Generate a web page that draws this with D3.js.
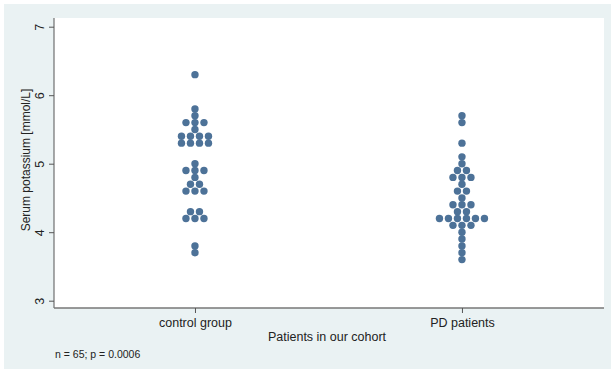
<!DOCTYPE html>
<html>
<head>
<meta charset="utf-8">
<script src="https://cdn.jsdelivr.net/npm/d3@7"></script>
<style>
  html, body { margin: 0; padding: 0; background: #ffffff; }
  svg { display: block; font-family: "Liberation Sans", Arial, sans-serif; }
</style>
</head>
<body>
<svg id="chart" width="611" height="372"></svg>
<script>
// ---- data ----
const categories = ["control group", "PD patients"];
const controlValues = [6.3, 5.8, 5.7, 5.6, 5.6, 5.6, 5.5, 5.4, 5.4, 5.4, 5.4, 5.3, 5.3, 5.3, 5.3,
  5.0, 4.9, 4.9, 4.9, 4.8, 4.7, 4.7, 4.6, 4.6, 4.6, 4.3, 4.3, 4.2, 4.2, 4.2, 3.8, 3.7];
const pdValues = [5.7, 5.6, 5.3, 5.1, 5.0, 4.9, 4.9, 4.8, 4.8, 4.8, 4.7, 4.6, 4.6, 4.5,
  4.4, 4.4, 4.4, 4.3, 4.3, 4.2, 4.2, 4.2, 4.2, 4.2, 4.2, 4.1, 4.1, 4.1, 4.0, 3.9, 3.8, 3.7, 3.6];
const yTicks = [3, 4, 5, 6, 7];
const yTitle = "Serum potassium [mmol/L]";
const xTitle = "Patients in our cohort";
const note = "n = 65; p = 0.0006";

// ---- layout ----
const svg = d3.select("#chart");
const W = 611, H = 372;
const plot = { left: 54, right: 604, top: 18, bottom: 308 };

svg.append("rect").attr("x", 0).attr("y", 0).attr("width", W).attr("height", H).attr("fill", "#ffffff");
svg.append("rect").attr("x", 4).attr("y", 4).attr("width", W - 4).attr("height", H - 7).attr("fill", "#eaf2f3");
svg.append("rect").attr("x", plot.left).attr("y", plot.top)
  .attr("width", plot.right - plot.left).attr("height", plot.bottom - plot.top).attr("fill", "#ffffff");

const x = d3.scaleLinear().domain([0.472, 2.532]).range([plot.left, plot.right]);
const y = d3.scaleLinear().domain([3, 7]).range([300.7, 26.7]);

// ---- y axis ----
const yAxis = d3.axisLeft(y).tickValues(yTicks).tickSize(5).tickPadding(4).tickFormat(d3.format("d"));
const gy = svg.append("g").attr("transform", `translate(${plot.left},0)`).call(yAxis);
gy.select(".domain").attr("d", `M0,${plot.top}V${plot.bottom}`).attr("stroke", "#555").attr("stroke-width", 1);
gy.selectAll(".tick line").attr("stroke", "#555");
gy.selectAll(".tick text")
  .attr("font-size", 12.5).attr("fill", "#222")
  .attr("text-anchor", "middle").attr("dy", null)
  .attr("x", null)
  .attr("transform", "translate(-14,0) rotate(-90)")
  .attr("dominant-baseline", "central");

svg.append("text")
  .attr("transform", `translate(26,160) rotate(-90)`)
  .attr("text-anchor", "middle").attr("dominant-baseline", "central")
  .attr("font-size", 12).attr("fill", "#222").text(yTitle);

// ---- x axis ----
const xAxis = d3.axisBottom(x).tickValues([1, 2]).tickSize(5).tickPadding(5)
  .tickFormat((d, i) => categories[i]);
const gx = svg.append("g").attr("transform", `translate(0,${plot.bottom})`).call(xAxis);
gx.select(".domain").attr("d", `M${plot.left},0H${plot.right}`).attr("stroke", "#777").attr("stroke-width", 1.5);
gx.selectAll(".tick line").attr("stroke", "#555");
gx.selectAll(".tick text").attr("font-size", 12.5).attr("fill", "#222");

svg.append("text").attr("x", 327).attr("y", 341).attr("text-anchor", "middle")
  .attr("font-size", 12.5).attr("fill", "#222").text(xTitle);

svg.append("text").attr("x", 55).attr("y", 358)
  .attr("font-size", 10.5).attr("fill", "#222").text(note);

// ---- dots ----
const spacing = 9;
function layout(values, cat) {
  const groups = d3.group(values, v => v);
  const pts = [];
  for (const [v, arr] of groups) {
    const n = arr.length;
    arr.forEach((_, i) => pts.push({ cat, v, off: (i - (n - 1) / 2) * spacing }));
  }
  return pts;
}
const points = layout(controlValues, 1).concat(layout(pdValues, 2));
svg.append("g").selectAll("circle").data(points).join("circle")
  .attr("cx", d => x(d.cat) + d.off)
  .attr("cy", d => y(d.v))
  .attr("r", 3.7)
  .attr("fill", "#4d7298");
</script>
</body>
</html>
